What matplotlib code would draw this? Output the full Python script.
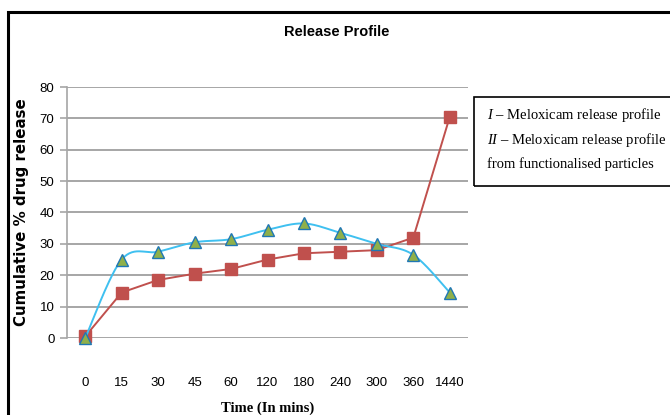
import numpy as np
import matplotlib
matplotlib.use("Agg")
import matplotlib.pyplot as plt
from matplotlib.patches import Rectangle

plt.rcParams["mathtext.fontset"] = "custom"
plt.rcParams["mathtext.it"] = "Liberation Serif:italic"
plt.rcParams["mathtext.rm"] = "Liberation Serif"

categories = ["0", "15", "30", "45", "60", "120", "180", "240", "300", "360", "1440"]
release_I = [0.5, 14.5, 18.5, 20.5, 22.0, 25.0, 27.0, 27.5, 28.0, 32.0, 70.5]
release_II = [0.0, 25.0, 27.5, 30.5, 31.5, 34.5, 36.5, 33.5, 30.0, 26.5, 14.5]
yticks = [0, 10, 20, 30, 40, 50, 60, 70, 80]


def smooth(x, y, n=30):
    x = np.asarray(x, float)
    y = np.asarray(y, float)
    P = np.column_stack([x, y])
    out = []
    for i in range(len(P) - 1):
        p0 = P[i - 1] if i > 0 else P[i]
        p1 = P[i]
        p2 = P[i + 1]
        p3 = P[i + 2] if i + 2 < len(P) else P[i + 1]
        c1 = p1 + (p2 - p0) / 6.0
        c2 = p2 - (p3 - p1) / 6.0
        t = np.linspace(0, 1, n)[:, None]
        seg = ((1 - t) ** 3) * p1 + 3 * ((1 - t) ** 2) * t * c1 + 3 * (1 - t) * t ** 2 * c2 + t ** 3 * p2
        out.append(seg if i == 0 else seg[1:])
    out = np.vstack(out)
    return out[:, 0], out[:, 1]


fig = plt.figure(figsize=(6.7, 4.15), dpi=100)
W, H = 670, 415

ax = fig.add_axes([67 / W, 1 - 338 / H, (468 - 67) / W, (338 - 87) / H])
x = np.arange(len(categories))

ax.set_xlim(-0.5, len(categories) - 0.5)
ax.set_ylim(0, 80)
ax.set_yticks(yticks)
ax.set_xticks(x)
ax.set_xticklabels(categories)

ax.grid(axis="y", color="#a6a6a6", linewidth=1.4)
ax.set_axisbelow(True)
for s in ["top", "right", "bottom"]:
    ax.spines[s].set_visible(False)
ax.spines["left"].set_color("#a6a6a6")
ax.spines["left"].set_linewidth(1.2)
ax.tick_params(axis="y", length=5, color="#a6a6a6", width=1.2, labelsize=9.5, pad=4)
ax.tick_params(axis="x", length=0, labelsize=9.5, pad=28)
for lab in ax.get_yticklabels() + ax.get_xticklabels():
    lab.set_family("Liberation Sans")

ax.plot(x, release_I, color="#c0504d", linewidth=1.4, marker="s", markersize=8,
        markerfacecolor="#c0504d", markeredgecolor="#c0504d", zorder=3, clip_on=False)
sx, sy = smooth(x, release_II)
ax.plot(sx, sy, color="#3fc0f0", linewidth=1.4, zorder=4, clip_on=False)
ax.plot(x, release_II, linestyle="none", marker="^", markersize=8,
        markerfacecolor="#8fb04a", markeredgecolor="#1f77b4", markeredgewidth=1.0, zorder=5, clip_on=False)

ax.set_ylabel("Cumulative % drug release", fontsize=10.8, fontweight="bold",
              family="DejaVu Sans")
ax.yaxis.set_label_coords((29 - 67) / (468 - 67), 0.5)
ax.set_xlabel("Time (In mins)", fontsize=10.5, fontweight="bold", family="Liberation Serif", labelpad=9)

fig.text(337 / W, 1 - 32 / H, "Release Profile", ha="center", va="center",
         fontsize=10.5, fontweight="bold", family="Liberation Sans")

# outer frame
fig.patches.append(Rectangle((8 / W, -0.05), 1.0, 1 - 12 / H + 0.05, transform=fig.transFigure,
                             fill=False, edgecolor="black", linewidth=2.2))
# legend box
fig.patches.append(Rectangle((474 / W, 1 - 186 / H), 0.5, (186 - 97) / H, transform=fig.transFigure,
                             fill=False, edgecolor="black", linewidth=1.2))
lx = 487 / W
fs = 10.5
fig.text(lx, 1 - 115 / H, r"$\it{I}$ – Meloxicam release profile", fontsize=fs,
         family="Liberation Serif", va="center", ha="left")
fig.text(lx, 1 - 140 / H, r"$\it{II}$ – Meloxicam release profile", fontsize=fs,
         family="Liberation Serif", va="center", ha="left")
fig.text(lx, 1 - 164 / H, "from functionalised particles", fontsize=fs,
         family="Liberation Serif", va="center", ha="left")

fig.savefig("out.png", dpi=100)
